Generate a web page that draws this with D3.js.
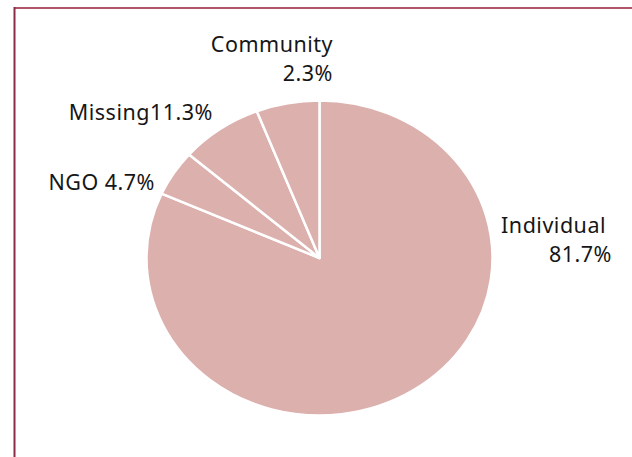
<!DOCTYPE html>
<html><head><meta charset="utf-8">
<script src="https://cdn.jsdelivr.net/npm/d3@7"></script>
<style>body{margin:0;background:#fff}svg{display:block}</style>
</head><body>
<svg id="c" width="632" height="457"></svg>
<script>
// slice order clockwise from 12 o'clock
const categories = ["Individual", "NGO", "Missing", "Community"];
const values = [81.7, 4.7, 7.7, 5.9];           // slice sizes as drawn
const labelLines = [["Individual", "81.7%"], ["NGO 4.7%"], ["Missing11.3%"], ["Community", "2.3%"]];

const svg = d3.select("#c");
const W = 632, H = 457;
const cx = 319.5, cy = 258, rx = 173, ry = 157.5;

// frame
svg.append("line").attr("x1", 14).attr("x2", W).attr("y1", 8).attr("y2", 8)
  .attr("stroke", "#b0546a").attr("stroke-width", 2);
svg.append("line").attr("x1", 14.5).attr("x2", 14.5).attr("y1", 7).attr("y2", H)
  .attr("stroke", "#8b2c48").attr("stroke-width", 2);

const pie = d3.pie().sort(null).value(d => d)(values);
const arc = d3.arc().innerRadius(0).outerRadius(rx);

const g = svg.append("g").attr("transform", `translate(${cx},${cy}) scale(1,${ry / rx})`);
g.selectAll("path").data(pie).join("path")
  .attr("d", arc)
  .attr("fill", "#dbb0ad")
  .attr("stroke", "#fff")
  .attr("stroke-width", 2.5)
  .attr("vector-effect", "non-scaling-stroke")
  .attr("stroke-linejoin", "round");

// labels: right edge anchor positions per category
const labelPos = [
  {x: 606, y: 233, lines: [{dx: 0}, {dx: 6}]},
  {x: 155, y: 190, lines: [{dx: 0}]},
  {x: 213, y: 120, lines: [{dx: 0}]},
  {x: 333, y: 52, lines: [{dx: 0}, {dx: 0}]}
];
const font = "'Noto Sans', sans-serif";
labelLines.forEach((lines, i) => {
  const p = labelPos[i];
  const t = svg.append("text")
    .attr("font-family", font).attr("font-size", 21.5)
    .attr("letter-spacing", 0.5)
    .attr("fill", "#161616").attr("text-anchor", "end");
  lines.forEach((s, j) => {
    t.append("tspan").attr("x", p.x + p.lines[j].dx).attr("y", p.y + j * 29).text(s);
  });
});
</script>
</body></html>
